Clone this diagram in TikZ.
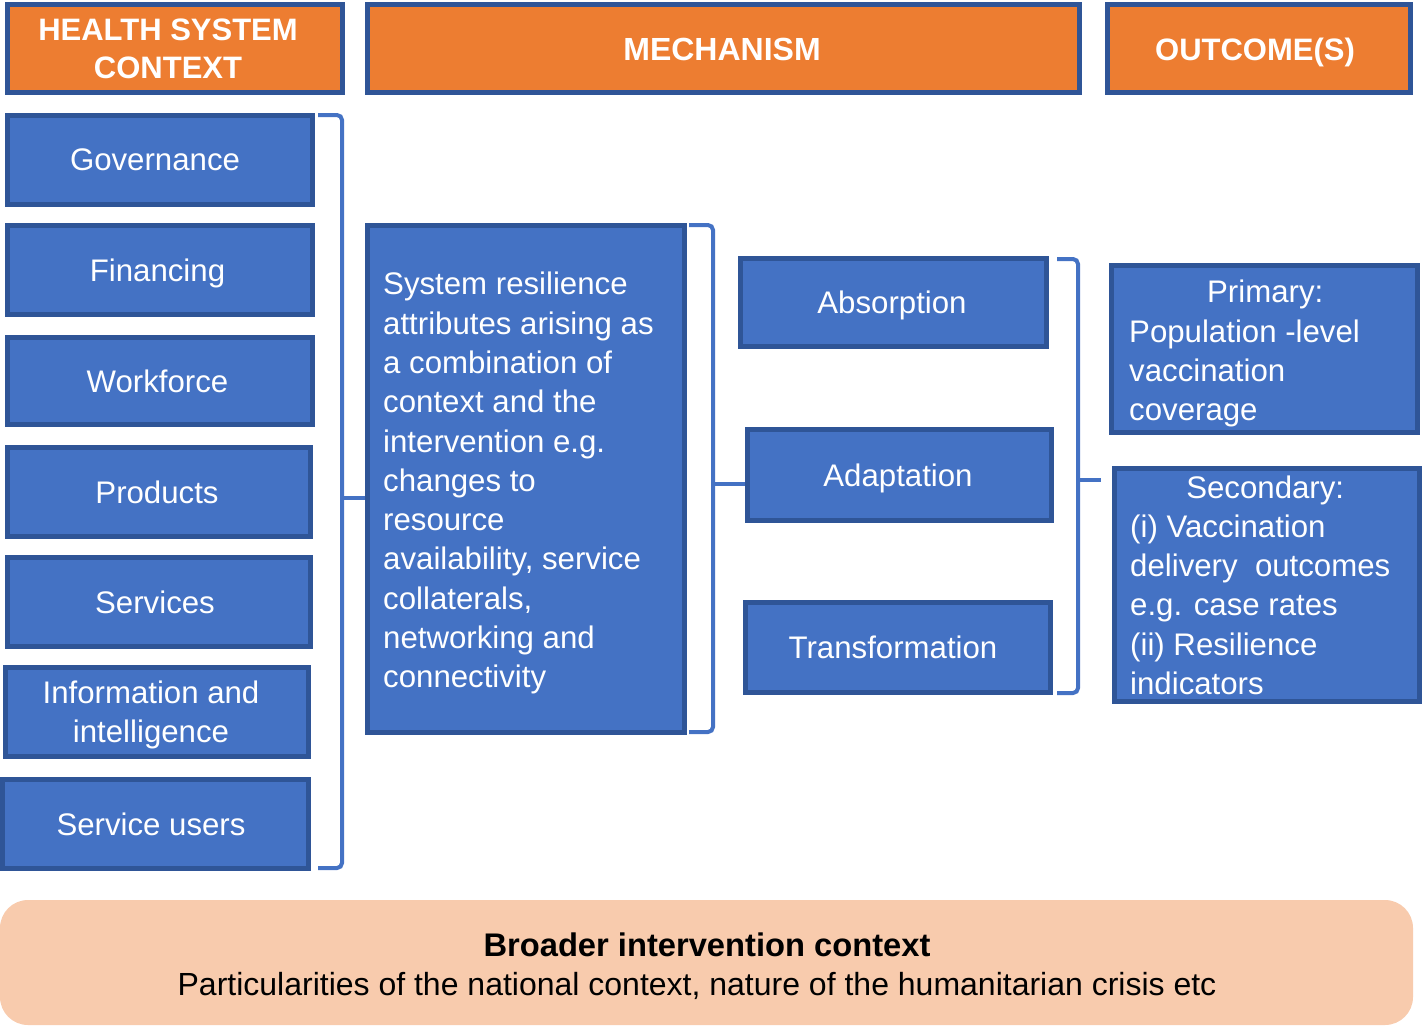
\documentclass[tikz,border=0pt]{standalone}
\usepackage{fontspec}
\setmainfont{Liberation Sans}
\usetikzlibrary{calc}
\definecolor{orangeH}{HTML}{ED7D31}
\definecolor{borderB}{HTML}{2F5597}
\definecolor{fillB}{HTML}{4472C4}
\definecolor{peach}{HTML}{F8CBAD}
\begin{document}
\begin{tikzpicture}[x=1pt,y=-1pt,
  hdr/.style={draw=borderB, fill=orangeH, line width=5pt, inner sep=0pt},
  htxt/.style={text=white, font=\fontsize{31}{38}\selectfont\bfseries, align=center, inner sep=0pt, text depth=0pt},
  bx/.style={draw=borderB, fill=fillB, line width=5pt, inner sep=0pt},
  btxt/.style={text=white, font=\fontsize{31.2}{39.3}\selectfont, align=center, inner sep=0pt, text depth=0pt},
  txt/.style={text=white, font=\fontsize{31.2}{39.3}\selectfont, align=left, inner sep=0pt, text depth=0pt},
  brk/.style={draw=fillB, line width=4pt, rounded corners=5pt},
]
\useasboundingbox (0,0) rectangle (1423,1026);

% headers
\node[hdr, minimum width=335pt, minimum height=88pt] (hsc) at (175,48.5) {};
\node[htxt] (hsct) at (168,49) {HEALTH SYSTEM\\CONTEXT};
\node[hdr, minimum width=712pt, minimum height=88pt] (mech) at (723.5,48.5) {};
\node[htxt, font=\fontsize{32}{38}\selectfont\bfseries] (mecht) at (722,49) {MECHANISM};
\node[hdr, minimum width=303pt, minimum height=88pt] (outc) at (1259,48.5) {};
\node[htxt] (outct) at (1255,49) {OUTCOME(S)};

% left column
\node[bx, minimum width=305pt, minimum height=89pt] (gov) at (160,160) {};
\node[btxt] (govt) at (155,160) {Governance};
\node[bx, minimum width=305pt, minimum height=89pt] (fin) at (160,270) {};
\node[btxt] (fint) at (157.5,270) {Financing};
\node[bx, minimum width=305pt, minimum height=87pt] (work) at (160,381) {};
\node[btxt] (workt) at (157.5,381) {Workforce};
\node[bx, minimum width=303pt, minimum height=89pt] (prod) at (159,492) {};
\node[btxt] (prodt) at (157,492) {Products};
\node[bx, minimum width=303pt, minimum height=89pt] (serv) at (159,602) {};
\node[btxt] (servt) at (155,602) {Services};
\node[bx, minimum width=303pt, minimum height=89pt] (info) at (157,712) {};
\node[btxt] (infot) at (151,712) {Information and\\intelligence};
\node[bx, minimum width=306pt, minimum height=89pt] (users) at (155.5,824) {};
\node[btxt] (userst) at (151,824) {Service users};

% middle
\node[bx, minimum width=317pt, minimum height=507pt] (mid) at (526,479) {};
\node[txt, anchor=west] (midtxt) at (383,480) {System resilience\\attributes arising as\\a combination of\\context and the\\intervention e.g.\\changes to\\resource\\availability, service\\collaterals,\\networking and\\connectivity};

% mechanisms
\node[bx, minimum width=306pt, minimum height=88pt] (abs) at (893.5,302.5) {};
\node[btxt] (abst) at (892,302.5) {Absorption};
\node[bx, minimum width=304pt, minimum height=91pt] (adapt) at (899.5,475) {};
\node[btxt] (adaptt) at (898,475) {Adaptation};
\node[bx, minimum width=305pt, minimum height=90pt] (trans) at (898,647.5) {};
\node[btxt] (transt) at (893,647.5) {Transformation};

% outcomes
\node[bx, minimum width=306pt, minimum height=167pt] (prim) at (1264.5,349) {};
\node[txt, anchor=west] (primtxt) at (1129,350.5) {\makebox[272pt][c]{Primary:}\\Population -level\\vaccination\\coverage};
\node[bx, minimum width=305pt, minimum height=233pt] (sec) at (1267,585) {};
\node[txt, anchor=west] (sectxt) at (1130,585) {\makebox[270pt][c]{Secondary:}\\(i) Vaccination\\delivery\ \ outcomes\\e.g. case rates\\(ii) Resilience\\indicators};

% brackets
\draw[brk] (318,115) -- (342,115) -- (342,868) -- (318,868);
\draw[brk] (342,498) -- (mid.west |- 0,498);
\draw[brk] (689,225) -- (713,225) -- (713,732) -- (689,732);
\draw[brk] (713,484) -- (adapt.west |- 0,484);
\draw[brk] (1057,259) -- (1078,259) -- (1078,693) -- (1057,693);
\draw[brk] (1078,480) -- (1101,480);

% bottom context
\node[fill=peach, rounded corners=28pt, minimum width=1413pt, minimum height=125pt, inner sep=0pt] (ctx) at (706.5,962.5) {};
\node[text=black, font=\fontsize{32.7}{40}\selectfont\bfseries, inner sep=0pt] (ctxhead) at (707,945) {Broader intervention context};
\node[text=black, font=\fontsize{32}{40}\selectfont, inner sep=0pt] (ctxbody) at (697,986) {Particularities of the national context, nature of the humanitarian crisis etc};
\end{tikzpicture}
\end{document}
